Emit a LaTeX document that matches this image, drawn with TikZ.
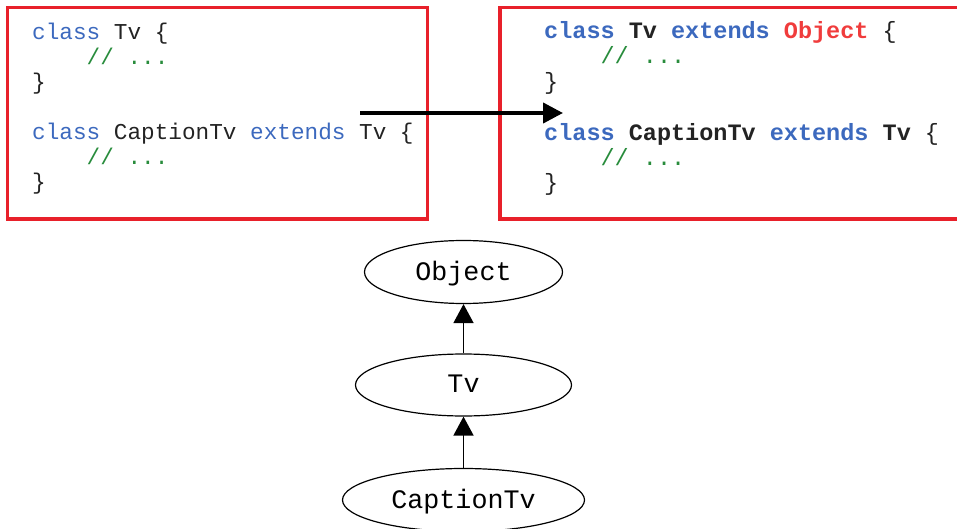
\documentclass[tikz,border=0pt]{standalone}
\usepackage{fontspec}
\setmonofont{Liberation Mono}
\usetikzlibrary{arrows.meta,positioning,shapes.geometric}
\definecolor{boxred}{RGB}{232,32,42}
\definecolor{kwblue}{RGB}{60,105,190}
\definecolor{cmtgreen}{RGB}{40,140,60}
\definecolor{objred}{RGB}{240,60,60}
\definecolor{codetext}{RGB}{35,35,35}
\tikzset{
  codebox/.style={draw=boxred,line width=3.5pt,inner sep=0pt},
  codeline/.style={anchor=base west,inner sep=0pt,text=codetext,
    font=\fontsize{22.7}{25}\selectfont\ttfamily},
  boldline/.style={anchor=base west,inner sep=0pt,text=codetext,
    font=\fontsize{23.5}{25}\selectfont\ttfamily},
  % class hierarchy below
  cls/.style={ellipse,draw,line width=1.2pt,inner sep=0pt,
    text depth=2pt,font=\fontsize{26.7}{30}\selectfont\ttfamily},
  inh/.style={-{Triangle[length=19pt,width=20pt]},line width=1.6pt},
  bigarr/.style={-{Triangle[length=20pt,width=20pt]},line width=4pt}
}
\newcommand{\kw}[1]{\textcolor{kwblue}{#1}}
\newcommand{\bkw}[1]{\textbf{\textcolor{kwblue}{#1}}}
\newcommand{\cmt}{\hspace*{2.4em}\textcolor{cmtgreen}{// ...}}

\begin{document}
\begin{tikzpicture}[x=1pt,y=-1pt]
  \useasboundingbox (0,0) rectangle (957,529);
  \clip (0,0) rectangle (957,529);
  % source as written
  \node[codebox,minimum width=420pt,minimum height=211.5pt] (before) at (217.5,113.25) {};
  \node[codeline] (l1) at (32,40) {\kw{class} Tv \{};
  \node[codeline] (l2) at (32,65) {\cmt};
  \node[codeline] (l3) at (32,90) {\}};
  \node[codeline] (l4) at (32,140) {\kw{class} CaptionTv \kw{extends} Tv \{};
  \node[codeline] (l5) at (32,165) {\cmt};
  \node[codeline] (l6) at (32,190) {\}};
  % what the compiler sees
  \node[codebox,minimum width=470pt,minimum height=211.5pt] (after) at (735,113.25) {};
  \node[boldline] (r1) at (544,39) {\bkw{class} \textbf{Tv} \bkw{extends} \textbf{\textcolor{objred}{Object}} \{};
  \node[boldline] (r2) at (544,64) {\cmt};
  \node[boldline] (r3) at (544,90) {\}};
  \node[boldline] (r4) at (544,141) {\bkw{class} \textbf{CaptionTv} \bkw{extends} \textbf{Tv} \{};
  \node[boldline] (r5) at (544,166) {\cmt};
  \node[boldline] (r6) at (544,191) {\}};
  \coordinate (from) at (360,113);
  \coordinate (to) at (563,113);
  \draw[bigarr] (from) -- (to);

  \node[cls,minimum width=198pt,minimum height=63pt] (object) at (463.5,272) {Object};
  \node[cls,minimum width=216pt,minimum height=62pt] (tv) at (463.5,385) {Tv};
  \node[cls,minimum width=242pt,minimum height=63pt] (captiontv) at (463.5,500) {CaptionTv};
  \draw[inh] (tv) -- (object);
  \draw[inh] (captiontv) -- (tv);
\end{tikzpicture}
\end{document}
